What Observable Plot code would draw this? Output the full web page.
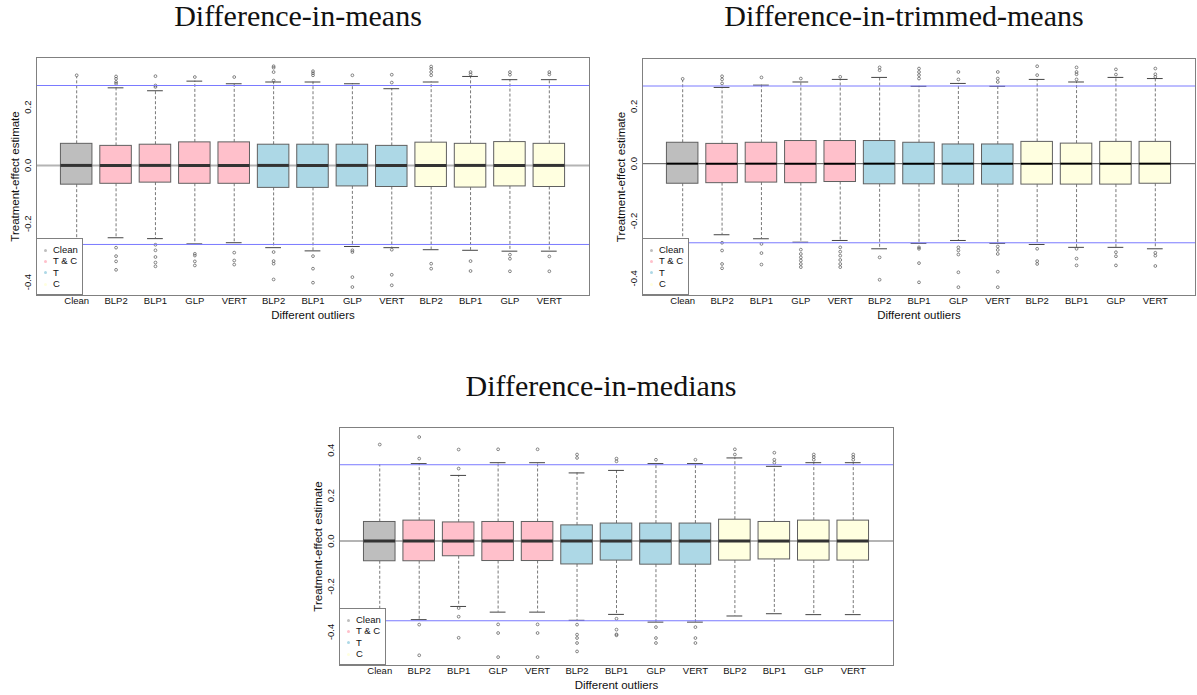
<!DOCTYPE html>
<html>
<head>
<meta charset="utf-8">
<script src="https://cdn.jsdelivr.net/npm/d3@7"></script>
<script src="https://cdn.jsdelivr.net/npm/@observablehq/plot@0.6"></script>
<style>
  body { margin: 0; background: #fff; }
  #root { position: relative; width: 1197px; height: 695px; overflow: hidden; font-family: "Liberation Sans", Arial, sans-serif; }
  .title { position: absolute; font-family: "Liberation Serif", "Times New Roman", serif; font-size: 30px; line-height: 30px; white-space: nowrap; transform: translateX(-50%); color: #111; }
  .panel { position: absolute; }
  .legend { position: absolute; background: #fff; border: 1px solid #808080; box-sizing: border-box; font-size: 9.5px; color: #111; }
  .legend .dot { position: absolute; width: 3px; height: 3px; border-radius: 50%; }
  .legend .lab { position: absolute; line-height: 10px; white-space: nowrap; }
</style>
</head>
<body>
<div id="root"></div>
<script>
// ---------- shared categories ----------
const categories = ["Clean","BLP2","BLP1","GLP","VERT","BLP2","BLP1","GLP","VERT","BLP2","BLP1","GLP","VERT"];
const groups     = ["Clean","T & C","T & C","T & C","T & C","T","T","T","T","C","C","C","C"];
const legendLabels = ["Clean","T & C","T","C"];
const groupColors = {"Clean": "#bebebe", "T & C": "#ffc0cb", "T": "#add8e6", "C": "#ffffe0"};
const xAxisLabel = "Different outliers";
const yAxisLabel = "Treatment-effect estimate";

// ---------- Difference-in-means ----------
const meansTitle = "Difference-in-means";
const meansQ3  = [0.074, 0.067, 0.071, 0.079, 0.079, 0.071, 0.071, 0.071, 0.067, 0.078, 0.074, 0.080, 0.074];
const meansMed = [0, 0, 0, 0, 0, 0, 0, 0, 0, 0, 0, 0, 0];
const meansQ1  = [-0.066, -0.063, -0.059, -0.063, -0.063, -0.077, -0.077, -0.072, -0.074, -0.074, -0.076, -0.072, -0.074];
const meansHi  = [0.303, 0.266, 0.256, 0.289, 0.280, 0.286, 0.286, 0.280, 0.263, 0.286, 0.305, 0.294, 0.294];
const meansLo  = [-0.330, -0.248, -0.251, -0.269, -0.265, -0.282, -0.293, -0.278, -0.282, -0.289, -0.291, -0.294, -0.294];
const meansOut = [
  [0.309],
  [0.305, 0.297, 0.286, 0.280, -0.282, -0.311, -0.329, -0.358],
  [0.306, 0.274, 0.269, -0.272, -0.291, -0.314, -0.333, -0.346],
  [0.303, -0.303, -0.309, -0.329, -0.343],
  [0.303, -0.299, -0.326, -0.340],
  [0.340, 0.335, 0.320, 0.291, -0.297, -0.328, -0.337, -0.391],
  [0.323, 0.316, 0.309, -0.311, -0.354, -0.402],
  [0.309, -0.291, -0.297, -0.383, -0.417],
  [0.311, 0.284, -0.289, -0.375, -0.411],
  [0.339, 0.331, 0.320, 0.309, -0.337, -0.354],
  [0.320, 0.312, -0.328, -0.362],
  [0.320, 0.311, -0.306, -0.320, -0.363],
  [0.320, 0.312, -0.312, -0.363]
];
const meansRefs = [0.274, -0.271];
const meansYDomain = [-0.446, 0.370];
const meansYTicks = [-0.4, -0.2, 0, 0.2];

// ---------- Difference-in-trimmed-means ----------
const trimTitle = "Difference-in-trimmed-means";
const trimQ3  = [0.073, 0.069, 0.073, 0.079, 0.079, 0.079, 0.073, 0.067, 0.067, 0.076, 0.070, 0.076, 0.076];
const trimMed = [0, 0, 0, 0, 0, 0, 0, 0, 0, 0, 0, 0, 0];
const trimQ1  = [-0.070, -0.068, -0.066, -0.068, -0.064, -0.072, -0.072, -0.073, -0.073, -0.073, -0.073, -0.073, -0.070];
const trimHi  = [0.290, 0.266, 0.274, 0.285, 0.294, 0.301, 0.270, 0.280, 0.270, 0.294, 0.285, 0.301, 0.297];
const trimLo  = [-0.330, -0.248, -0.262, -0.274, -0.268, -0.297, -0.278, -0.268, -0.278, -0.282, -0.292, -0.292, -0.297];
const trimOut = [
  [0.296],
  [0.305, 0.294, 0.280, -0.276, -0.303, -0.350, -0.365],
  [0.301, -0.280, -0.312, -0.352],
  [0.297, -0.300, -0.315, -0.327, -0.338, -0.350, -0.361],
  [0.303, -0.292, -0.307, -0.321, -0.336, -0.350, -0.361],
  [0.336, 0.326, -0.327, -0.405],
  [0.332, 0.320, 0.309, 0.297, -0.292, -0.297, -0.347, -0.414],
  [0.320, 0.294, -0.292, -0.303, -0.317, -0.379, -0.431],
  [0.320, 0.297, 0.285, -0.289, -0.301, -0.315, -0.377, -0.431],
  [0.340, 0.309, -0.297, -0.340, -0.350],
  [0.336, 0.320, 0.312, 0.294, -0.297, -0.331, -0.355],
  [0.329, 0.311, -0.309, -0.323, -0.355],
  [0.332, 0.312, 0.303, -0.311, -0.321, -0.357]
];
const trimRefs = [0.271, -0.276];
const trimYDomain = [-0.460, 0.367];
const trimYTicks = [-0.4, -0.2, 0, 0.2];

// ---------- Difference-in-medians ----------
const medTitle = "Difference-in-medians";
const medQ3  = [0.084, 0.090, 0.082, 0.084, 0.084, 0.069, 0.077, 0.077, 0.077, 0.094, 0.084, 0.090, 0.090];
const medMed = [0, 0, 0, 0, 0, 0, 0, 0, 0, 0, 0, 0, 0];
const medQ1  = [-0.089, -0.089, -0.067, -0.088, -0.088, -0.103, -0.086, -0.104, -0.104, -0.086, -0.081, -0.086, -0.086];
const medHi  = [0.336, 0.341, 0.289, 0.345, 0.345, 0.300, 0.311, 0.341, 0.341, 0.366, 0.329, 0.345, 0.345];
const medLo  = [-0.400, -0.346, -0.288, -0.313, -0.313, -0.349, -0.323, -0.357, -0.357, -0.330, -0.320, -0.324, -0.324];
const medOut = [
  [0.425],
  [0.458, 0.363, -0.368, -0.503],
  [0.403, 0.319, -0.295, -0.333, -0.426],
  [0.404, -0.367, -0.405, -0.511],
  [0.404, -0.367, -0.405, -0.511],
  [0.381, 0.366, -0.368, -0.412, -0.427, -0.449, -0.486],
  [0.363, 0.351, -0.342, -0.390, -0.411, -0.415],
  [0.358, -0.379, -0.427, -0.449],
  [0.358, -0.379, -0.427, -0.449],
  [0.404, 0.381],
  [0.389, 0.358, 0.345],
  [0.381, 0.370, 0.358],
  [0.381, 0.370, 0.358]
];
const medRefs = [0.336, -0.351];
const medYDomain = [-0.548, 0.500];
const medYTicks = [-0.4, -0.2, 0, 0.2, 0.4];

// ---------- drawing ----------
const root = document.getElementById("root");

function addTitle(text, cx, top) {
  const t = document.createElement("div");
  t.className = "title";
  t.textContent = text;
  t.style.left = cx + "px";
  t.style.top = top + "px";
  root.appendChild(t);
}

function addLegend(left, top) {
  const lg = document.createElement("div");
  lg.className = "legend";
  lg.style.left = left + "px";
  lg.style.top = top + "px";
  lg.style.width = "47px";
  lg.style.height = "57px";
  legendLabels.forEach((lab, k) => {
    const cy = 12 + k * 11.4;
    const d = document.createElement("div");
    d.className = "dot";
    d.style.left = (8.5 - 1.5) + "px";
    d.style.top = (cy - 1.5 - 1) + "px";
    d.style.background = groupColors[lab];
    lg.appendChild(d);
    const s = document.createElement("div");
    s.className = "lab";
    s.textContent = lab;
    s.style.left = "16px";
    s.style.top = (cy - 5 - 1) + "px";
    lg.appendChild(s);
  });
  root.appendChild(lg);
}

function panel(cfg) {
  const rows = categories.map((c, k) => ({
    i: k + 1, cat: c, group: groups[k],
    q1: cfg.q1[k], q3: cfg.q3[k], med: cfg.med[k], lo: cfg.lo[k], hi: cfg.hi[k]
  }));
  const capped = rows.filter(d => d.group !== "Clean");
  const outs = cfg.out.flatMap((vals, k) => vals.map(v => ({i: k + 1, v})));

  const chart = Plot.plot({
    width: cfg.width, height: cfg.height,
    marginLeft: cfg.mL, marginRight: cfg.mR, marginTop: cfg.mT, marginBottom: cfg.mB,
    x: {type: "linear", domain: [-0.02, 14.02]},
    y: {type: "linear", domain: cfg.yDomain},
    color: {type: "identity"},
    style: {fontFamily: '"Liberation Sans", Arial, sans-serif', fontSize: "9.5px", background: "transparent", color: "#111", overflow: "visible"},
    marks: [
      Plot.ruleY([0], {stroke: cfg.zeroStroke, strokeWidth: cfg.zeroWidth}),
      Plot.ruleX(rows, {x: "i", y1: "q3", y2: "hi", stroke: "#555", strokeWidth: 0.8, strokeDasharray: "3,2"}),
      Plot.ruleX(rows, {x: "i", y1: "q1", y2: "lo", stroke: "#555", strokeWidth: 0.8, strokeDasharray: "3,2"}),
      Plot.ruleY(capped, {y: "hi", x1: d => d.i - 0.2, x2: d => d.i + 0.2, stroke: "#444", strokeWidth: 1}),
      Plot.ruleY(capped, {y: "lo", x1: d => d.i - 0.2, x2: d => d.i + 0.2, stroke: "#444", strokeWidth: 1}),
      Plot.rect(rows, {x1: d => d.i - 0.4, x2: d => d.i + 0.4, y1: "q1", y2: "q3", fill: d => groupColors[d.group], stroke: "#606060", strokeWidth: 1}),
      Plot.ruleY(rows, {y: "med", x1: d => d.i - 0.4, x2: d => d.i + 0.4, stroke: cfg.medStroke, strokeWidth: cfg.medWidth}),
      Plot.dot(outs, {x: "i", y: "v", r: 1.4, stroke: "#555", strokeWidth: 0.7, fill: "none"}),
      Plot.ruleY(cfg.refs, {stroke: "#7a7aff", strokeWidth: 1}),
      Plot.frame({stroke: "#808080", strokeWidth: 1}),
      Plot.axisX(d3.range(1, 14), {tickFormat: i => categories[i - 1], tickSize: 0, tickPadding: 2, label: null}),
      Plot.axisY(cfg.yTicks, {tickFormat: d => d.toFixed(1), tickSize: 0, tickRotate: -90, tickPadding: 6, label: null}),
      Plot.text([yAxisLabel], {frameAnchor: "left", textAnchor: "middle", rotate: -90, dx: -21, fontSize: 11.5}),
      Plot.text([xAxisLabel], {frameAnchor: "bottom", textAnchor: "middle", dy: 23, lineAnchor: "bottom", fontSize: 11.5})
    ]
  });
  const wrap = document.createElement("div");
  wrap.className = "panel";
  wrap.style.left = cfg.left + "px";
  wrap.style.top = cfg.top + "px";
  wrap.appendChild(chart);
  root.appendChild(wrap);
  addTitle(cfg.title, cfg.titleX, cfg.titleTop);
  addLegend(cfg.left + cfg.mL, cfg.top + cfg.height - cfg.mB - 57);
}

panel({
  title: meansTitle, titleX: 298, titleTop: 1,
  left: 0, top: 40, width: 600, height: 285, mL: 36, mR: 11, mT: 17, mB: 30,
  yDomain: meansYDomain, yTicks: meansYTicks,
  q1: meansQ1, q3: meansQ3, med: meansMed, lo: meansLo, hi: meansHi, out: meansOut, refs: meansRefs,
  zeroStroke: "#b4b4b4", zeroWidth: 2, medStroke: "#333", medWidth: 3
});
panel({
  title: trimTitle, titleX: 904, titleTop: 1,
  left: 600, top: 40, width: 597, height: 285, mL: 42, mR: 2, mT: 18, mB: 30,
  yDomain: trimYDomain, yTicks: trimYTicks,
  q1: trimQ1, q3: trimQ3, med: trimMed, lo: trimLo, hi: trimHi, out: trimOut, refs: trimRefs,
  zeroStroke: "#555", zeroWidth: 1, medStroke: "#000", medWidth: 2
});
panel({
  title: medTitle, titleX: 601, titleTop: 371,
  left: 300, top: 410, width: 600, height: 285, mL: 39, mR: 7, mT: 17, mB: 30,
  yDomain: medYDomain, yTicks: medYTicks,
  q1: medQ1, q3: medQ3, med: medMed, lo: medLo, hi: medHi, out: medOut, refs: medRefs,
  zeroStroke: "#b4b4b4", zeroWidth: 2, medStroke: "#333", medWidth: 3
});
</script>
</body>
</html>
